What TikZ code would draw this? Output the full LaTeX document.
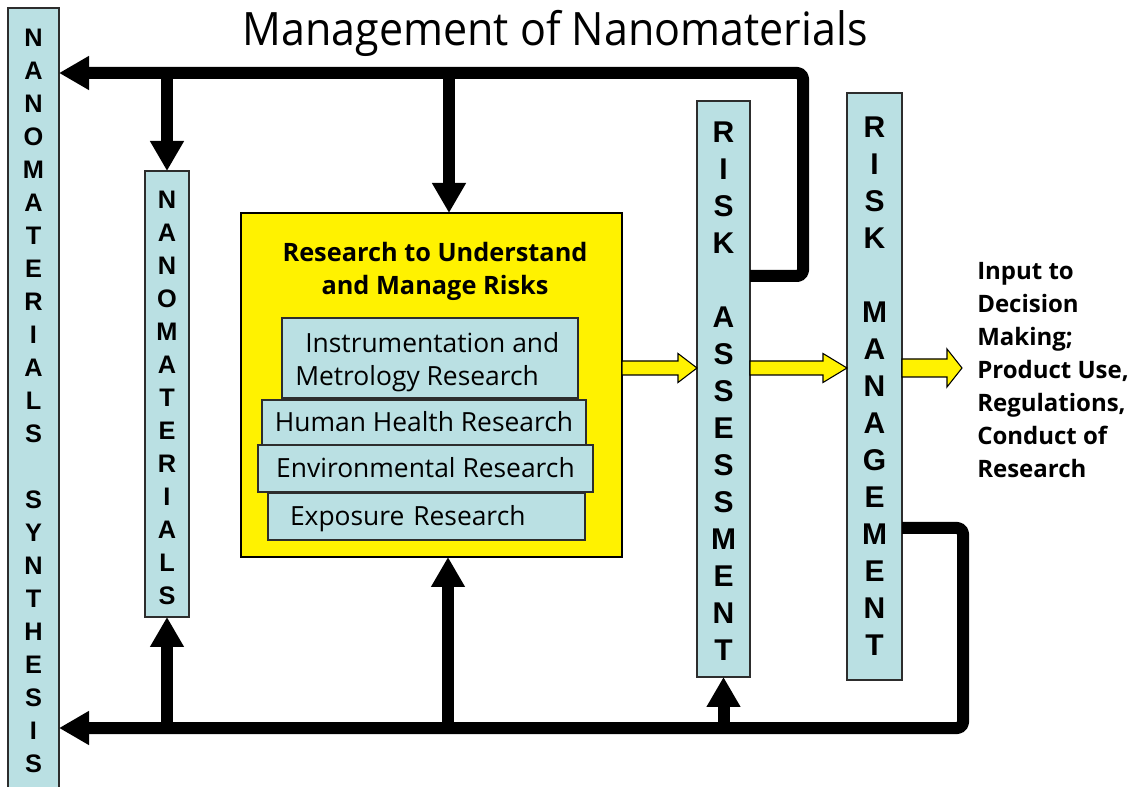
\documentclass[tikz,border=0pt]{standalone}
\usepackage{fontspec}
\setmainfont{Open Sans}
\newfontfamily\barfont{Liberation Sans}
\usetikzlibrary{arrows.meta,calc}
\definecolor{barblue}{RGB}{186,224,227}
\definecolor{edgegray}{RGB}{45,45,45}
\newcommand\pbox[7][]{\node[#1,minimum width={(#5-#3)*0.75pt},minimum height={(#6-#4)*0.75pt}] (#2) at ({(#3+#5)/2},{(#4+#6)/2}) {#7};}
\newcommand\blockarrow[5]{\draw[yarr] ($(#1)+(0,-#3)$) -- ($(#2)+(-#5,-#3)$) -- ($(#2)+(-#5,-#4)$) -- (#2) -- ($(#2)+(-#5,#4)$) -- ($(#2)+(-#5,#3)$) -- ($(#1)+(0,#3)$) -- cycle;}
\begin{document}
\begin{tikzpicture}[x=0.75pt,y=-0.75pt,
  bar/.style={draw=edgegray,line width=0.8pt,fill=barblue,inner sep=0pt,outer sep=0pt},
  ybox/.style={draw=black,line width=1.1pt,fill=yellow,inner sep=0pt,outer sep=0pt},
  ibox/.style={bar,font=\fontsize{19.8}{24.75}\selectfont},
  nlet/.style={font=\barfont\bfseries\fontsize{19}{19}\selectfont,inner sep=0pt,text height=13.6pt,text depth=0pt},
  rlet/.style={font=\barfont\bfseries\fontsize{22.5}{22.5}\selectfont,inner sep=0pt,text height=16.1pt,text depth=0pt},
  bline/.style={line width=9pt,line join=round,rounded corners=4pt,-{Triangle[width=24pt,length=22.5pt]}},
  barr/.style={line width=9pt,-{Triangle[width=24pt,length=22.5pt]}},
  yarr/.style={draw=black,line width=0.8pt,fill=yellow,line join=miter}]
\useasboundingbox (0,0) rectangle (1136,787);
\fill[white] (0,0) rectangle (1136,787);

% boxes
\pbox[bar]{nms}{8}{8}{59}{800}{}
\pbox[bar]{nm}{145}{171}{189}{617}{}
\pbox[bar]{ra}{697}{101}{750}{677}{}
\pbox[bar]{rm}{847}{93}{902}{680}{}
\pbox[ybox]{yb}{241}{213}{622}{557}{}
\pbox[ibox]{ib1}{282}{318}{578}{398}{}
\node[font=\fontsize{19.8}{24.75}\selectfont,align=left,inner sep=0pt,anchor=west] (ib1t) at (295,362) {\hspace*{7.5pt}Instrumentation and\\Metrology Research};
\pbox[ibox,text height=14.1pt,text depth=0pt]{ib2}{262}{400}{586}{445}{Human Health Research}
\pbox[ibox,text height=14.1pt,text depth=0pt]{ib3}{258}{445}{593}{492}{Environmental Research}
\pbox[ibox,text height=14.1pt,text depth=0pt,align=left,inner xsep=16.5pt,text width={(317-44)*0.75pt}]{ib4}{268}{493}{585}{540}{Exposure Research}

% texts
\node[font=\fontsize{34.5}{34.5}\selectfont,anchor=base,inner sep=0pt] (title) at (555,46) {\scalebox{0.935}[1]{Management of Nanomaterials}};
\node[font=\bfseries\fontsize{19}{24.75}\selectfont,align=center,anchor=north,inner sep=0pt] (ybt) at (435,242) {Research to Understand\\and Manage Risks};
\node[font=\bfseries\fontsize{18}{24.75}\selectfont,align=left,anchor=north west,inner sep=0pt] (out) at (977,262) {Input to\\Decision\\Making;\\Product Use,\\Regulations,\\Conduct of\\Research};

% vertical letters
\foreach \l [count=\i from 0] in {N,A,N,O,M,A,T,E,R,I,A,L,S}
  \node[nlet] (nmsa\i) at (33.5,{37+33*\i}) {\l};
\foreach \l [count=\i from 0] in {S,Y,N,T,H,E,S,I,S}
  \node[nlet] (nmsb\i) at (33.5,{37+33*(14+\i)}) {\l};
\foreach \l [count=\i from 0] in {N,A,N,O,M,A,T,E,R,I,A,L,S}
  \node[nlet] (nml\i) at (167,{199+33*\i}) {\l};
\foreach \l [count=\i from 0] in {R,I,S,K}
  \node[rlet] (raa\i) at (723.5,{132+37*\i}) {\l};
\foreach \l [count=\i from 0] in {A,S,S,E,S,S,M,E,N,T}
  \node[rlet] (rab\i) at (723.5,{132+37*(5+\i)}) {\l};
\foreach \l [count=\i from 0] in {R,I,S,K}
  \node[rlet] (rma\i) at (874.5,{127+37*\i}) {\l};
\foreach \l [count=\i from 0] in {M,A,N,A,G,E,M,E,N,T}
  \node[rlet] (rmb\i) at (874.5,{127+37*(5+\i)}) {\l};

% coordinates
\coordinate (tc1) at (803,276);
\coordinate (tc2) at (803,73);
\coordinate (bc1) at (963,528);
\coordinate (bc2) at (963,728);
\coordinate (ja) at (449,73);
\coordinate (jb) at (448,728);
\coordinate (ylev) at (0,368);
\coordinate (y3b) at (962,368);

% black feedback lines
\draw[bline] (ra.east |- tc1) -- (tc1) -- (tc2) -- (nms.east |- tc2);
\draw[barr] (nm.north |- tc2) -- (nm.north);
\draw[barr] (ja) -- (yb.north -| ja);
\draw[bline] (rm.east |- bc1) -- (bc1) -- (bc2) -- (nms.east |- bc2);
\draw[barr] (nm.south |- bc2) -- (nm.south);
\draw[barr] (jb) -- (yb.south -| jb);
\draw[barr] (ra.south |- bc2) -- (ra.south);

% yellow block arrows
\coordinate (y1a) at (yb.east |- ylev);
\coordinate (y1b) at (ra.west |- ylev);
\coordinate (y2a) at (ra.east |- ylev);
\coordinate (y2b) at (rm.west |- ylev);
\coordinate (y3a) at (rm.east |- ylev);
\blockarrow{y1a}{y1b}{7}{14.5}{19}
\blockarrow{y2a}{y2b}{7}{14.5}{24}
\blockarrow{y3a}{y3b}{9}{19}{15}
\end{tikzpicture}
\end{document}
